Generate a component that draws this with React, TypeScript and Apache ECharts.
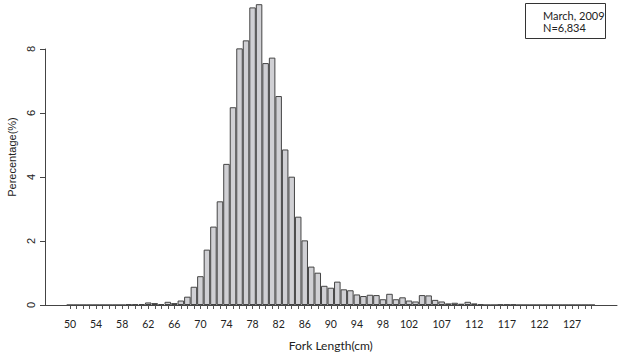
import React, { useEffect, useRef } from "react";
import * as echarts from "echarts";

const lengths = [
  "50", "51", "52", "53", "54", "55", "56", "57", "58", "59",
  "60", "61", "62", "63", "64", "65", "66", "67", "68", "69",
  "70", "71", "72", "73", "74", "75", "76", "77", "78", "79",
  "80", "81", "82", "83", "84", "85", "86", "87", "88", "89",
  "90", "91", "92", "93", "94", "95", "96", "97", "98", "99",
  "100", "101", "102", "103", "104", "105", "106", "107", "108", "109",
  "110", "111", "112", "113", "114", "115", "116", "117", "118", "119",
  "120", "121", "122", "123", "124", "125", "126", "127", "128", "129",
  "130",
];

const percentages = [
  0, 0, 0, 0, 0, 0, 0, 0, 0, 0.02,
  0.02, 0.03, 0.08, 0.06, 0.03, 0.10, 0.06, 0.14, 0.26, 0.57,
  0.90, 1.73, 2.45, 3.24, 4.41, 6.18, 8.02, 8.27, 9.30, 9.40,
  7.56, 7.73, 6.53, 4.86, 4.01, 2.76, 2.02, 1.20, 1.01, 0.60,
  0.54, 0.73, 0.49, 0.46, 0.33, 0.28, 0.32, 0.31, 0.18, 0.35,
  0.18, 0.24, 0.14, 0.11, 0.31, 0.30, 0.16, 0.11, 0.05, 0.07,
  0.04, 0.10, 0.05, 0.02, 0, 0, 0.015, 0.015, 0.015, 0,
  0, 0, 0, 0, 0, 0, 0, 0, 0, 0,
  0,
];

const xTickLabels = ["50", "54", "58", "62", "66", "70", "74", "78", "82", "86", "90", "94", "98", "102", "107", "112", "117", "122", "127"];

const legendLines = ["March, 2009", "N=6,834"];
const xTitle = "Fork Length(cm)";
const yTitle = "Perecentage(%)";

export default function App() {
  const ref = useRef<HTMLDivElement>(null);
  useEffect(() => {
    if (!ref.current) return;
    const chart = echarts.init(ref.current, null, { renderer: "svg" });
    const axisColor = "#444";
    chart.setOption({
      animation: false,
      backgroundColor: "#ffffff",
      grid: [
        { left: 66.74, top: 1, width: 528.12, height: 304 },
        { left: 45, top: 49, width: 572, height: 256 },
      ],
      xAxis: [
        {
          type: "category",
          gridIndex: 0,
          data: lengths,
          boundaryGap: true,
          offset: 3,
          axisLine: { show: false },
          axisTick: {
            show: true,
            interval: 0,
            alignWithLabel: true,
            length: 4,
            lineStyle: { color: "#555", width: 1 },
          },
          axisLabel: {
            interval: (_i: number, v: string) => xTickLabels.includes(v),
            fontFamily: "Lato",
            fontSize: 10.5,
            color: "#222",
            margin: 10,
          },
          splitLine: { show: false },
          name: xTitle,
          nameLocation: "middle",
          nameGap: 31,
          nameTextStyle: { fontFamily: "Lato", fontSize: 12, color: "#222" },
        },
        {
          type: "value",
          gridIndex: 1,
          min: 0,
          max: 1,
          axisLine: { show: true, lineStyle: { color: axisColor, width: 1 } },
          axisTick: { show: false },
          axisLabel: { show: false },
          splitLine: { show: false },
        },
      ],
      yAxis: [
        { type: "value", gridIndex: 0, min: 0, max: 9.5, show: false },
        {
          type: "value",
          gridIndex: 1,
          min: 0,
          max: 8,
          interval: 2,
          axisLine: { show: true, lineStyle: { color: axisColor, width: 1 } },
          axisTick: { show: true, length: 5, lineStyle: { color: axisColor, width: 1 } },
          axisLabel: {
            rotate: 90,
            fontFamily: "Liberation Sans",
            fontSize: 11,
            color: "#222",
            margin: 9,
          },
          splitLine: { show: false },
        },
      ],
      series: [
        {
          type: "bar",
          xAxisIndex: 0,
          yAxisIndex: 0,
          data: percentages,
          barCategoryGap: "0%",
          itemStyle: { color: "#d0d0d4", borderColor: "#444", borderWidth: 1 },
        },
      ],
      graphic: [
        {
          type: "text",
          x: 12,
          y: 157,
          rotation: Math.PI / 2,
          style: {
            text: yTitle,
            fontFamily: "Liberation Sans",
            fontSize: 11,
            fill: "#222",
            align: "center",
            verticalAlign: "middle",
          },
        },
        {
          type: "rect",
          shape: { x: 525.5, y: 3.5, width: 80, height: 35 },
          style: { fill: "#fff", stroke: "#333", lineWidth: 1 },
        },
        {
          type: "text",
          x: 543,
          y: 9,
          style: {
            text: legendLines.join("\n"),
            fontFamily: "Lato",
            fontSize: 11,
            lineHeight: 12,
            fill: "#222",
            align: "left",
            verticalAlign: "top",
          },
        },
      ],
    });
    return () => chart.dispose();
  }, []);
  return (
    <div
      ref={ref}
      style={{ position: "fixed", left: 0, top: 0, width: 620, height: 356 }}
    />
  );
}
